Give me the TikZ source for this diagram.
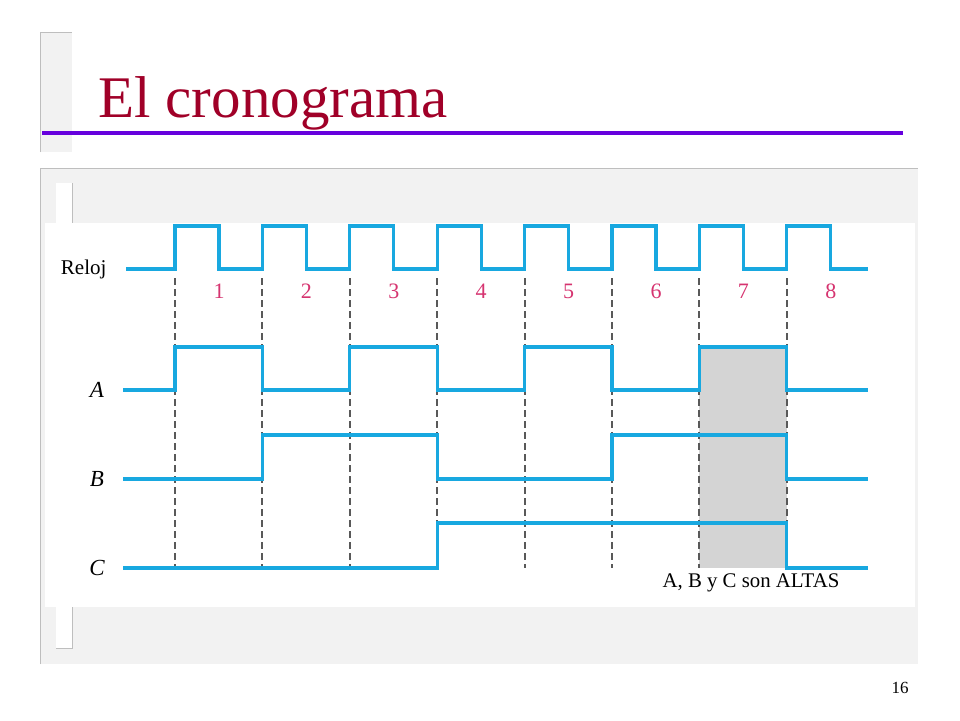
\documentclass[tikz,border=0pt]{standalone}
\usepackage{fontspec}
\setmainfont{Liberation Serif}
\definecolor{titlered}{RGB}{160,0,40}
\definecolor{rulepurple}{RGB}{102,0,221}
\definecolor{sigblue}{RGB}{24,168,224}
\definecolor{numpink}{RGB}{214,52,112}
\definecolor{panelgray}{RGB}{242,242,242}
\definecolor{edgegray}{RGB}{190,190,190}
\definecolor{shadegray}{RGB}{212,212,212}
\tikzset{
    signal/.style = {draw = sigblue, line width = 3.2pt},
    tick/.style = {draw = black!65, line width = 2pt, dash pattern = on 7pt off 4pt},
    sig label/.style = {font = \fontsize{23}{26}\selectfont\itshape},
    cycle num/.style = {text = numpink, font = \fontsize{22}{24}\selectfont}
}
\begin{document}
\begin{tikzpicture}[x = 1pt, y = -1pt]
                \useasboundingbox (0, 0) rectangle (960, 720);
                \fill[white] (0, 0) rectangle (960, 720);

                % title block
                \fill[panelgray] (40, 32) rectangle (72, 152);
                \draw[edgegray] (40, 152) -- (40, 32) -- (72, 32);
                \node (title) at (95, 117) [anchor = base west, text = titlered,
                    font = \fontsize{59}{66}\selectfont] {El cronograma};
                \draw[rulepurple, line width = 4pt] (42, 133) -- (903, 133);

                % panel behind the chart
                \fill[panelgray] (40, 168) rectangle (918, 664);
                \draw[edgegray] (40, 664) -- (40, 168) -- (918, 168);
                \fill[white] (56, 183) rectangle (72, 223);
                \draw[edgegray] (72, 183) -- (72, 223);
                \fill[white] (45, 223) rectangle (915, 607);
                \fill[white] (56, 607) rectangle (72, 648);
                \draw[edgegray] (56, 648) -- (72, 648) -- (72, 607);

                % shaded cycle 7
                \fill[shadegray] (699.4, 347) rectangle (786.8, 568);

                % dashed edges
                \foreach \k in {0, ..., 7} {
                    \draw[tick] (175 + 87.4 * \k, 278) -- (175 + 87.4 * \k, 568);
                }

                % clock
                \draw[signal] (126, 269)
                    \foreach \k in {0, ..., 7} {
                        -- (175 + 87.4 * \k, 269) -- (175 + 87.4 * \k, 226)
                        -- (219 + 87.4 * \k, 226) -- (219 + 87.4 * \k, 269)
                    } -- (868, 269);
                \foreach \k in {1, ..., 8} {
                    \node (n\k) at (131.6 + 87.4 * \k, 291) [cycle num] {\k};
                }

                % A
                \draw[signal] (123, 390) -- (175, 390) -- (175, 347) -- (262.4, 347)
                    -- (262.4, 390) -- (349.8, 390) -- (349.8, 347) -- (437.2, 347)
                    -- (437.2, 390) -- (524.6, 390) -- (524.6, 347) -- (612, 347)
                    -- (612, 390) -- (699.4, 390) -- (699.4, 347) -- (786.8, 347)
                    -- (786.8, 390) -- (868, 390);

                % B
                \draw[signal] (123, 479) -- (262.4, 479) -- (262.4, 435) -- (437.2, 435)
                    -- (437.2, 479) -- (612, 479) -- (612, 435) -- (786.8, 435)
                    -- (786.8, 479) -- (868, 479);

                % C
                \draw[signal] (123, 568) -- (437.2, 568) -- (437.2, 523) -- (786.8, 523)
                    -- (786.8, 568) -- (868, 568);

                \node (reloj) at (110, 269) [anchor = east, font = \fontsize{21}{24}\selectfont] {Reloj};
                \node (la) at (97, 390) [sig label] {A};
                \node (lb) at (97, 479) [sig label] {B};
                \node (lc) at (97, 568) [sig label] {C};

                \node (altas) at (751, 583) [font = \fontsize{20.8}{24}\selectfont] {A, B y C son ALTAS};
                \node (page) at (900, 688) [font = \fontsize{17}{20}\selectfont] {16};
            \end{tikzpicture}
\end{document}
